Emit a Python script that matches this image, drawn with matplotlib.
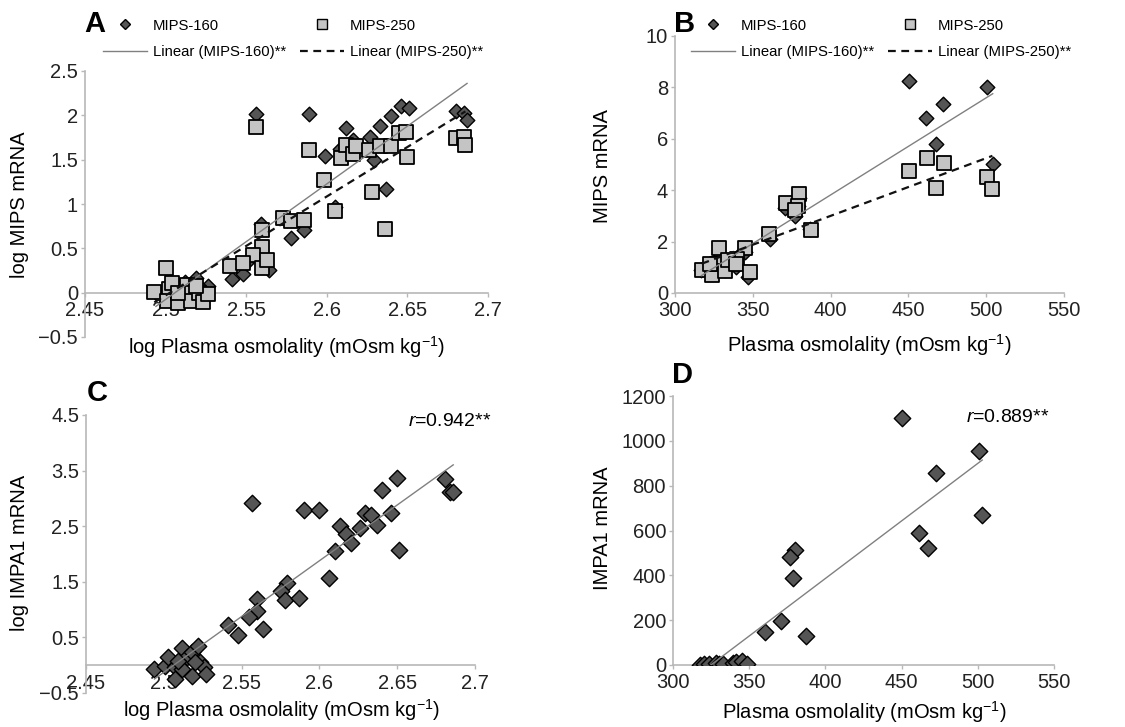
import matplotlib
matplotlib.use('Agg')
import matplotlib.pyplot as plt
import numpy as np
from matplotlib.ticker import FuncFormatter
from matplotlib.lines import Line2D

plt.rcParams['font.family'] = ['Liberation Sans', 'DejaVu Sans']
plt.rcParams['mathtext.fontset'] = 'custom'
plt.rcParams['mathtext.rm'] = 'Liberation Sans'
plt.rcParams['mathtext.it'] = 'Liberation Sans:italic'

# ---- Panel A: log MIPS mRNA vs log plasma osmolality ----
a_x160 = [2.556, 2.589, 2.599, 2.612, 2.627, 2.633, 2.640, 2.646, 2.651, 2.629,
          2.637, 2.680, 2.685, 2.687, 2.605, 2.578, 2.586, 2.559, 2.564, 2.541,
          2.548, 2.526, 2.519, 2.608, 2.616, 2.575, 2.560, 2.555, 2.550, 2.494,
          2.500, 2.504, 2.508, 2.512, 2.515, 2.517, 2.522, 2.510]
a_y160 = [2.02, 2.02, 1.54, 1.86, 1.76, 1.88, 1.99, 2.11, 2.08, 1.50,
          1.17, 2.05, 2.03, 1.95, 0.97, 0.62, 0.71, 0.77, 0.25, 0.15,
          0.21, 0.07, 0.16, 1.62, 1.72, 0.82, 0.40, 0.42, 0.33, 0.00,
          0.03, 0.10, -0.05, 0.12, 0.02, -0.06, 0.05, 0.05]
a_x250 = [2.500, 2.493, 2.502, 2.501, 2.508, 2.504, 2.513, 2.514, 2.516, 2.521,
          2.523, 2.526, 2.508, 2.519,
          2.556, 2.589, 2.598, 2.605, 2.609, 2.612, 2.616, 2.618, 2.626, 2.633,
          2.640, 2.645, 2.649, 2.650, 2.628, 2.636, 2.680, 2.685, 2.686, 2.573,
          2.578, 2.586, 2.560, 2.560, 2.554, 2.560, 2.563, 2.540, 2.548]
a_y250 = [0.28, 0.01, 0.04, -0.09, -0.12, 0.11, 0.09, 0.00, -0.09, 0.00,
          -0.11, -0.02, 0.00, 0.07,
          1.87, 1.61, 1.27, 0.92, 1.52, 1.67, 1.56, 1.65, 1.61, 1.65,
          1.65, 1.80, 1.81, 1.53, 1.13, 0.72, 1.74, 1.76, 1.66, 0.84,
          0.81, 0.82, 0.71, 0.52, 0.43, 0.28, 0.37, 0.30, 0.34]

# ---- Panel B: MIPS mRNA vs plasma osmolality ----
b_x160 = [450.4, 500.3, 472.5, 461.3, 467.5, 504.2, 347.1, 317, 322, 324,
          327, 329, 332, 334, 339, 340, 345, 361, 371, 377, 379, 380, 387]
b_y160 = [8.26, 8.00, 7.34, 6.79, 5.78, 5.01, 0.62, 0.9, 1.1, 0.8,
          1.2, 1.5, 0.9, 1.2, 1.0, 1.4, 1.6, 2.1, 3.3, 3.0, 3.4, 3.7, 2.5]
b_x250 = [450.6, 461.7, 472.8, 467.5, 500.3, 504.0, 371.3, 379.7, 378.8, 377.1,
          387.2, 360.6, 328.5, 345.0, 339.6, 317.1, 323.6, 326.8, 332.1, 334.3,
          339.3, 348.2, 322.5]
b_y250 = [4.75, 5.27, 5.04, 4.10, 4.52, 4.03, 3.51, 3.87, 3.39, 3.22,
          2.47, 2.31, 1.77, 1.77, 1.34, 0.91, 0.69, 1.14, 0.86, 1.27,
          1.14, 0.82, 1.14]

# ---- Panel C: log IMPA1 mRNA vs log plasma osmolality ----
c_x = [2.557, 2.590, 2.600, 2.650, 2.640, 2.681, 2.684, 2.686, 2.629, 2.633,
       2.637, 2.646, 2.626, 2.613, 2.617, 2.620, 2.651, 2.610, 2.606, 2.579,
       2.575, 2.578, 2.587, 2.560, 2.560, 2.555, 2.564, 2.541, 2.548,
       2.494, 2.501, 2.503, 2.507, 2.507, 2.512, 2.512, 2.515, 2.518, 2.518,
       2.522, 2.523, 2.526, 2.527, 2.509, 2.520]
c_y = [2.92, 2.79, 2.79, 3.36, 3.15, 3.34, 3.12, 3.12, 2.74, 2.70,
       2.53, 2.74, 2.47, 2.50, 2.36, 2.20, 2.08, 2.06, 1.56, 1.47,
       1.33, 1.17, 1.20, 1.19, 0.98, 0.86, 0.65, 0.73, 0.55,
       -0.07, -0.02, 0.15, -0.04, -0.25, 0.31, -0.07, 0.15, 0.23, -0.19,
       0.34, 0.05, -0.03, -0.15, 0.08, 0.05]

# ---- Panel D: IMPA1 mRNA vs plasma osmolality ----
d_x = [450.4, 500.7, 472.3, 502.9, 461.3, 467.5, 379.9, 376.6, 378.8, 370.7,
       360.6, 387.1, 318.0, 320.1, 323.4, 328.5, 330.2, 332.8, 339.4, 341.6,
       345.5, 348.6]
d_y = [1102, 953, 858, 671, 590, 523, 512, 480, 389, 198,
       149, 129, 2, 5, 3, 8, 4, 6, 10, 12,
       20, 5]

W, H = 1125, 727
fig = plt.figure(figsize=(W / 100, H / 100), dpi=100)

SPINE = '#b8b8b8'
DARK = '#555555'
LIGHT = '#c4c4c4'
TICK_FS = 14.5
LABEL_FS = 14.5


def px_axes(left, top, right, bottom):
    return fig.add_axes([left / W, 1 - bottom / H, (right - left) / W, (bottom - top) / H])


def fmt(v, pos):
    return ('%g' % v).replace('-', '\u2212')


def style(ax, xlim, ylim, xticks, yticks):
    ax.set_xlim(*xlim)
    ax.set_ylim(*ylim)
    ax.set_xticks(xticks)
    ax.set_yticks(yticks)
    ax.xaxis.set_major_formatter(FuncFormatter(fmt))
    ax.yaxis.set_major_formatter(FuncFormatter(fmt))
    for s in ['top', 'right']:
        ax.spines[s].set_visible(False)
    for s in ['left', 'bottom']:
        ax.spines[s].set_color(SPINE)
        ax.spines[s].set_linewidth(1.2)
    ax.spines['bottom'].set_position(('data', 0))
    ax.tick_params(axis='both', colors=SPINE, labelcolor='#222222', labelsize=TICK_FS,
                   length=3, width=1)
    ax.tick_params(axis='y', pad=2)
    ax.tick_params(axis='x', pad=3)
    ax.set_facecolor('none')


def trend(ax, x, y, **kw):
    coef = np.polyfit(x, y, 1)
    xs = np.array([min(x), max(x)])
    ax.plot(xs, np.polyval(coef, xs), zorder=5, **kw)


def diamonds(ax, x, y, s=55):
    ax.scatter(x, y, marker='D', s=s, c=DARK, edgecolors='black', linewidths=1.0, zorder=3)


def squares(ax, x, y):
    ax.scatter(x, y, marker='s', s=100, c=LIGHT, edgecolors='black', linewidths=1.3, zorder=4)


solid_kw = dict(color='#808080', linewidth=1.0)
dash_kw = dict(color='#111111', linewidth=1.6, linestyle=(0, (3.5, 2.5)))

# Panel A
axA = px_axes(85, 71, 488, 337)
diamonds(axA, a_x160, a_y160)
squares(axA, a_x250, a_y250)
trend(axA, a_x160, a_y160, **solid_kw)
trend(axA, a_x250, a_y250, **dash_kw)
style(axA, (2.45, 2.7), (-0.5, 2.5), [2.45, 2.5, 2.55, 2.6, 2.65, 2.7],
      [-0.5, 0, 0.5, 1, 1.5, 2, 2.5])

# Panel B
axB = px_axes(675, 36, 1064, 293)
diamonds(axB, b_x160, b_y160)
squares(axB, b_x250, b_y250)
trend(axB, b_x160, b_y160, **solid_kw)
trend(axB, b_x250, b_y250, **dash_kw)
style(axB, (300, 550), (0, 10), [300, 350, 400, 450, 500, 550], [0, 2, 4, 6, 8, 10])

# Panel C
axC = px_axes(86, 415, 475, 693)
diamonds(axC, c_x, c_y, s=70)
trend(axC, c_x, c_y, **solid_kw)
style(axC, (2.45, 2.7), (-0.5, 4.5), [2.45, 2.5, 2.55, 2.6, 2.65, 2.7],
      [-0.5, 0.5, 1.5, 2.5, 3.5, 4.5])

# Panel D
axD = px_axes(673, 396, 1054, 665)
diamonds(axD, d_x, d_y, s=70)
trend(axD, d_x, d_y, **solid_kw)
style(axD, (300, 550), (0, 1200), [300, 350, 400, 450, 500, 550],
      [0, 200, 400, 600, 800, 1000, 1200])

# legends for A and B
handles = [
    Line2D([], [], marker='D', linestyle='none', markersize=5, markerfacecolor=DARK,
           markeredgecolor='black'),
    Line2D([], [], **solid_kw),
    Line2D([], [], marker='s', linestyle='none', markersize=7, markerfacecolor=LIGHT,
           markeredgecolor='black'),
    Line2D([], [], **dash_kw),
]
labels = ['MIPS-160', 'Linear (MIPS-160)**', 'MIPS-250', 'Linear (MIPS-250)**']
for cx in [293, 881]:
    fig.legend(handles, labels, ncol=2, loc='center', bbox_to_anchor=(cx / W, 1 - 39 / H),
               frameon=False, fontsize=10.7, handlelength=3.0, columnspacing=0.9,
               labelspacing=0.85, handletextpad=0.4)

# panel letters
for lbl, x, y in [('A', 84, 24), ('B', 674, 24), ('C', 87, 393), ('D', 672, 375)]:
    fig.text(x / W, 1 - y / H, lbl, fontsize=21, fontweight='bold', ha='left', va='center')

# axis labels
xlab_log = 'log Plasma osmolality (mOsm kg$^{\u22121}$)'
xlab = 'Plasma osmolality (mOsm kg$^{\u22121}$)'
for txt, x, y in [(xlab_log, 287, 347), (xlab, 869, 345), (xlab_log, 282, 710), (xlab, 864, 712)]:
    fig.text(x / W, 1 - y / H, txt, fontsize=LABEL_FS, ha='center', va='center')
for txt, x, y in [('log MIPS mRNA', 20, 205), ('MIPS mRNA', 603, 166),
                  ('log IMPA1 mRNA', 20, 553), ('IMPA1 mRNA', 603, 528)]:
    fig.text(x / W, 1 - y / H, txt, fontsize=LABEL_FS, ha='center', va='center', rotation=90)

fig.text(492 / W, 1 - 422 / H, '$r$=0.942**', fontsize=14, ha='right', va='center')
fig.text(1050 / W, 1 - 418 / H, '$r$=0.889**', fontsize=14, ha='right', va='center')

fig.savefig('out.png', dpi=100)
